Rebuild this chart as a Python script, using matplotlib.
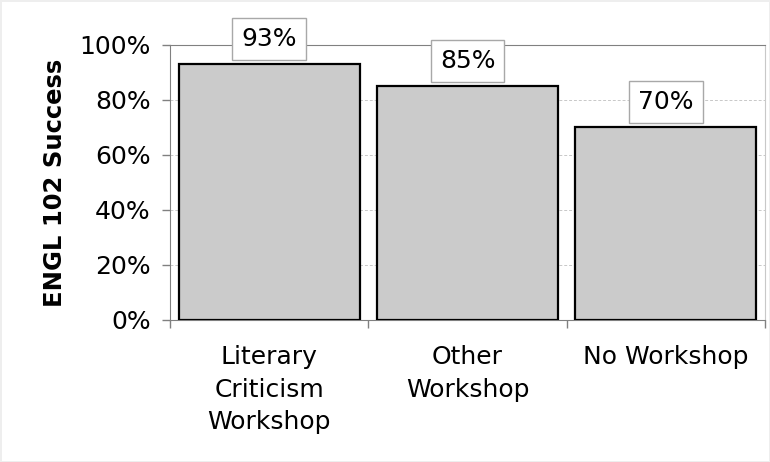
import matplotlib.pyplot as plt
from matplotlib.ticker import FuncFormatter

# data
categories = ['Literary\nCriticism\nWorkshop', 'Other\nWorkshop', 'No Workshop']
success = [0.93, 0.85, 0.70]
y_ticks = [0, 0.2, 0.4, 0.6, 0.8, 1.0]

fig = plt.figure(figsize=(7.7, 4.62), dpi=100)
fig.patch.set_edgecolor('#eeeeee')
fig.patch.set_linewidth(1)
ax = fig.add_axes([0.2208, 0.3074, 0.7727, 0.5952])

x = list(range(len(categories)))
bars = ax.bar(x, success, width=0.913, color='#cbcbcb', edgecolor='black', linewidth=1.6, zorder=3)

# value boxes above bars
for bar, val in zip(bars, success):
    ax.annotate(f'{val*100:.0f}%', xy=(bar.get_x() + bar.get_width()/2, bar.get_height()),
                xytext=(0, 18.5), textcoords='offset points', ha='center', va='center',
                fontsize=18, zorder=5,
                bbox=dict(boxstyle='square,pad=0.36', facecolor='white', edgecolor='#a8a8a8', linewidth=1))

ax.set_xlim(-0.5, len(categories) - 0.5)
ax.set_ylim(0, 1.0)
ax.set_yticks(y_ticks)
ax.yaxis.set_major_formatter(FuncFormatter(lambda v, p: f'{v*100:.0f}%'))
ax.tick_params(axis='y', labelsize=18, length=6, width=1, color='#808080', pad=8, direction='out')

ax.set_xticks(x)
ax.set_xticklabels(categories, fontsize=18, linespacing=1.45, va='top')
ax.set_xticks([i - 0.5 for i in range(len(categories) + 1)], minor=True)
ax.tick_params(axis='x', which='major', length=0, pad=18)
ax.tick_params(axis='x', which='minor', length=6, width=1, color='#808080', direction='out')

ax.grid(axis='y', color='#c8c8c8', linestyle=(0, (3, 2)), linewidth=0.7, zorder=0)
for side in ['left', 'bottom', 'top']:
    ax.spines[side].set_color('#808080')
ax.spines['right'].set_color('#c8c8c8')

ax.set_ylabel('ENGL 102 Success', fontsize=17.5, fontweight='bold', labelpad=9)

plt.savefig('out.png', dpi=100)
